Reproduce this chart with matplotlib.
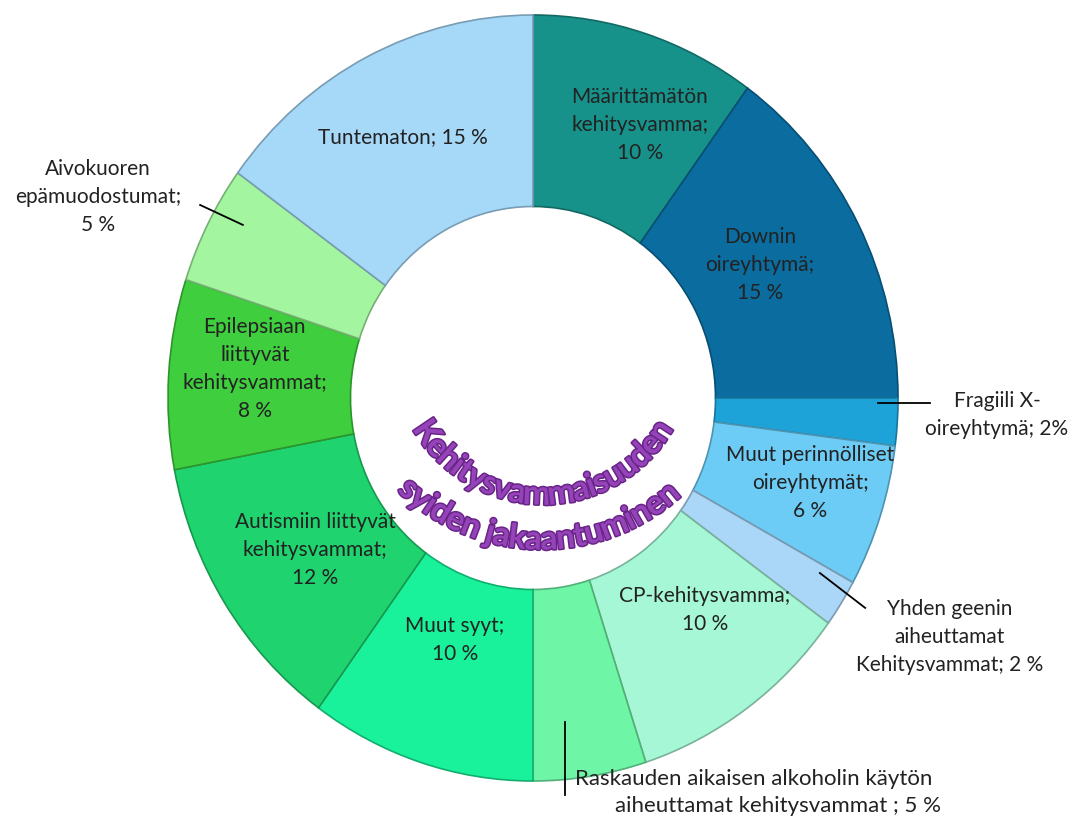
import numpy as np
import matplotlib
matplotlib.use('Agg')
import matplotlib.pyplot as plt
import matplotlib.colors as mcolors
import matplotlib.patheffects as pe
from matplotlib.font_manager import FontProperties
from matplotlib.textpath import TextToPath

plt.rcParams['font.family'] = ['Lato', 'DejaVu Sans']

# data, clockwise from 12 o'clock
labels = ['Määrittämätön\nkehitysvamma;\n10 %', 'Downin\noireyhtymä;\n15 %',
          'Fragiili X-\noireyhtymä; 2%', 'Muut perinnölliset\noireyhtymät;\n6 %',
          'Yhden geenin\naiheuttamat\nKehitysvammat; 2 %', 'CP-kehitysvamma;\n10 %',
          'Raskauden aikaisen alkoholin käytön', 'Muut syyt;\n10 %',
          'Autismiin liittyvät\nkehitysvammat;\n12 %',
          'Epilepsiaan\nliittyvät\nkehitysvammat;\n8 %',
          'Aivokuoren\nepämuodostumat;\n5 %', 'Tuntematon; 15 %']
values = [10, 15, 2, 6, 2, 10, 5, 10, 12, 8, 5, 15]
colors = ['#17928a', '#0b6ca0', '#1ea3d8', '#6dccf5', '#aad6f7', '#a6f7d6',
          '#6ff5a6', '#19f29a', '#1fd46e', '#3fce3e', '#a4f5a0', '#a6d8f8']
title_lines = ['Kehitysvammaisuuden', 'syiden jakaantuminen']

# label placement (data coords of the ellipse axes)
inside_pos = {0: (0.293, 0.713), 1: (0.622, 0.347), 3: (0.759, -0.222),
              5: (0.471, -0.554), 7: (-0.214, -0.632), 8: (-0.597, -0.397),
              9: (-0.762, 0.076), 11: (-0.356, 0.681)}
outside = {10: ((-0.795, 0.452), (-0.912, 0.504), (-1.192, 0.525)),
           2: ((0.945, -0.013), (1.088, -0.013), (1.271, -0.044)),
           4: ((0.786, -0.457), (0.910, -0.548), (1.142, -0.624))}

W, H = 1074, 818
cx, cy, rx, ry = 533, 398, 365, 383

fig = plt.figure(figsize=(W / 100, H / 100), dpi=100)
ax = fig.add_axes([(cx - rx) / W, (H - cy - ry) / H, 2 * rx / W, 2 * ry / H])

wedges, _ = ax.pie(values, colors=colors, startangle=90, counterclock=False,
                   radius=1, wedgeprops=dict(width=0.5, linewidth=1.2))
for w, c in zip(wedges, colors):
    w.set_edgecolor(np.array(mcolors.to_rgb(c)) * 0.72)

ax.set_aspect('auto')
ax.set_xlim(-1, 1)
ax.set_ylim(-1, 1)
ax.axis('off')

txt_color = '#222222'
for i, (x, y) in inside_pos.items():
    ax.text(x, y, labels[i], ha='center', va='center', fontsize=15,
            color=txt_color, linespacing=1.5)

for i, (p0, p1, pt) in outside.items():
    ax.plot([p0[0], p1[0]], [p0[1], p1[1]], color='black', lw=1.3, clip_on=False)
    ax.text(pt[0], pt[1], labels[i], ha='center', va='center', fontsize=15,
            color=txt_color, linespacing=1.5)

# alcohol label, larger font, two offset lines
ax.plot([0.088, 0.088], [-0.846, -1.037], color='black', lw=1.3, clip_on=False)
ax.text(0.605, -0.995, labels[6], ha='center', va='center', fontsize=16,
        color=txt_color)
ax.text(0.671, -1.065, 'aiheuttamat kehitysvammat ; 5 %', ha='center', va='center',
        fontsize=16, color=txt_color)

# curved title along arcs (pixel space)
fp = FontProperties(family='Lato', weight='bold', size=24)
t2p = TextToPath()


def arc_text(s, acx, acy, r, span_deg, center_deg):
    widths = [t2p.get_text_width_height_descent(ch, fp, ismath=False)[0] * 100 / 72
              for ch in s]
    total = sum(widths)
    scale = np.radians(span_deg) * r / total
    pos = -total / 2
    for ch, wd in zip(s, widths):
        th = (pos + wd / 2) * scale / r + np.radians(center_deg)
        px = acx + r * np.sin(th)
        py = acy + r * np.cos(th)
        fig.text(px / W, 1 - py / H, ch, fontproperties=fp, color='#9444b8',
                 rotation=np.degrees(th), ha='center', va='center',
                 rotation_mode='anchor',
                 path_effects=[pe.withStroke(linewidth=2.2, foreground='#6a2488')])
        pos += wd


arc_text(title_lines[0], 543, 354, 141, 120, 0)
arc_text(title_lines[1], 542, 341, 199, 86, -1)

fig.savefig('out.png', dpi=100)
